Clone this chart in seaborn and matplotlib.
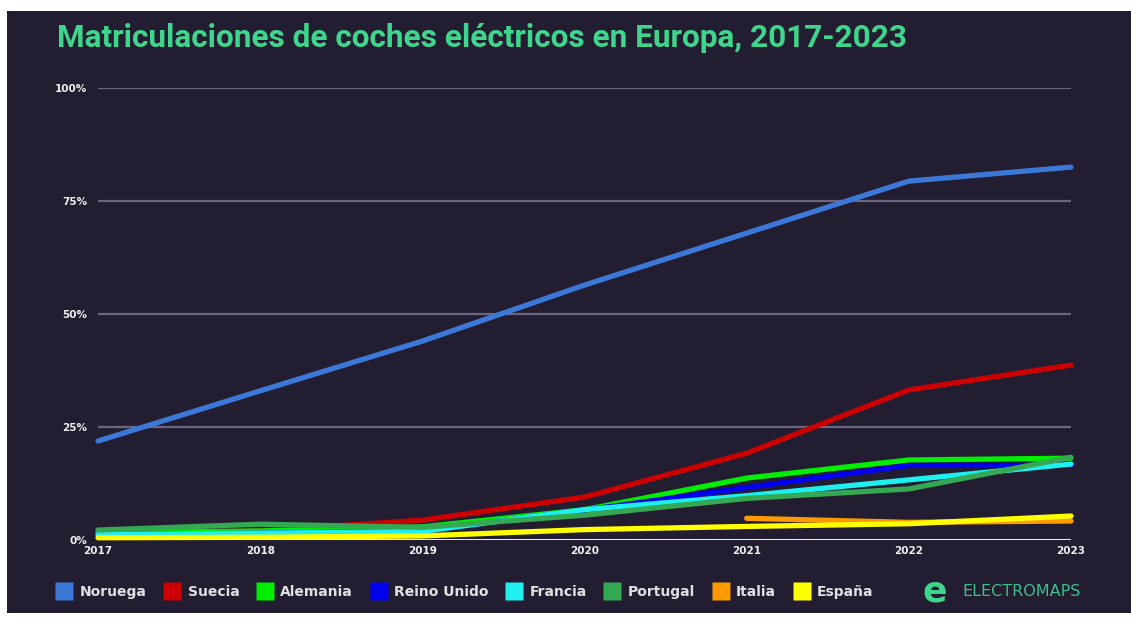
import matplotlib
matplotlib.use("Agg")
import matplotlib.pyplot as plt
from matplotlib.lines import Line2D
from matplotlib.patches import Rectangle
import numpy as np
import pandas as pd
import seaborn as sns

years = [2017, 2018, 2019, 2020, 2021, 2022, 2023]
countries = ["Noruega", "Suecia", "Alemania", "Reino Unido", "Francia", "Portugal", "Italia", "España"]
noruega = [21.9, 33.0, 44.0, 56.4, 67.9, 79.4, 82.5]
suecia = [1.5, 2.0, 4.4, 9.5, 19.2, 33.2, 38.7]
alemania = [1.6, 2.0, 2.9, 6.7, 13.7, 17.7, 18.1]
reino_unido = [1.2, 1.5, 2.0, 6.6, 11.6, 16.5, 16.5]
francia = [1.2, 1.5, 1.9, 6.7, 9.8, 13.3, 16.8]
portugal = [2.2, 3.5, 2.8, 5.5, 9.2, 11.3, 18.3]
italia = [np.nan, np.nan, np.nan, np.nan, 4.8, 3.9, 4.2]
espana = [0.5, 0.6, 0.9, 2.3, 3.0, 3.6, 5.3]
colors = ["#3b78d8", "#cc0000", "#00ee00", "#0000ee", "#1ef0f0", "#34a853", "#ff9900", "#ffff00"]

values = [noruega, suecia, alemania, reino_unido, francia, portugal, italia, espana]
df = pd.DataFrame(
    [(c, y, v) for c, vals in zip(countries, values) for y, v in zip(years, vals)],
    columns=["pais", "anio", "valor"],
).dropna()

bg = "#221d30"
sns.set_style("dark")
fig = plt.figure(figsize=(11.31, 6.21), dpi=100, facecolor="white")
fig.patches.append(Rectangle((7 / 1131, 8 / 621), 1 - 7 / 1131, 1 - 19 / 621,
                             transform=fig.transFigure, facecolor=bg, edgecolor="none", zorder=-5))

ax = fig.add_axes([98 / 1131, 1 - 540 / 621, (1071 - 98) / 1131, (540 - 88) / 621])
ax.set_zorder(2)
ax.patch.set_alpha(0)

for yv in [25, 50, 75, 100]:
    ax.axhline(yv, color="#6b6680", lw=1.6, zorder=1)

sns.lineplot(data=df, x="anio", y="valor", hue="pais", hue_order=countries,
             palette=colors, linewidth=3.8, legend=False, ax=ax, zorder=3, clip_on=False)
ax.axhline(0, color="#e8e6ef", lw=2.2, zorder=4)

ax.set_xlim(2017, 2023)
ax.set_ylim(0, 100)
ax.set_xticks(years)
ax.set_xticklabels([str(y) for y in years], color="#f0f0f0", fontsize=7.5, fontweight="bold")
ax.set_yticks([0, 25, 50, 75, 100])
ax.set_yticklabels(["0%", "25%", "50%", "75%", "100%"], color="#f0f0f0", fontsize=7.5, fontweight="bold")
ax.tick_params(axis="both", length=0)
ax.tick_params(axis="x", pad=4)
ax.tick_params(axis="y", pad=8)
ax.set_xlabel("")
ax.set_ylabel("")
ax.grid(False)
for s in ax.spines.values():
    s.set_visible(False)

fig.text(57 / 1131, 1 - 38 / 621, "Matriculaciones de coches eléctricos en Europa, 2017-2023",
         color="#3dd68c", fontsize=22.7, fontweight="bold", family="Roboto", va="center", ha="left")

handles = [Line2D([0], [0], marker="s", color="none", markerfacecolor=c, markeredgecolor="none",
                  markersize=13) for c in colors]
fig.legend(handles, countries, loc="center left", bbox_to_anchor=(45 / 1131, 1 - 592 / 621),
           ncol=8, frameon=False, prop={"size": 10, "weight": "semibold"}, labelcolor="#e0e0e0",
           handlelength=1.0, handletextpad=0.6, columnspacing=1.35)

fig.text(935 / 1131, 1 - 591 / 621, "e", color="#3dd68c", fontsize=26, fontweight="bold",
         va="center", ha="center")
fig.text(962 / 1131, 1 - 592 / 621, "ELECTROMAPS", color="#3dbf8a", fontsize=11.5,
         va="center", ha="left")

fig.savefig("out.png", dpi=100, facecolor="white")
